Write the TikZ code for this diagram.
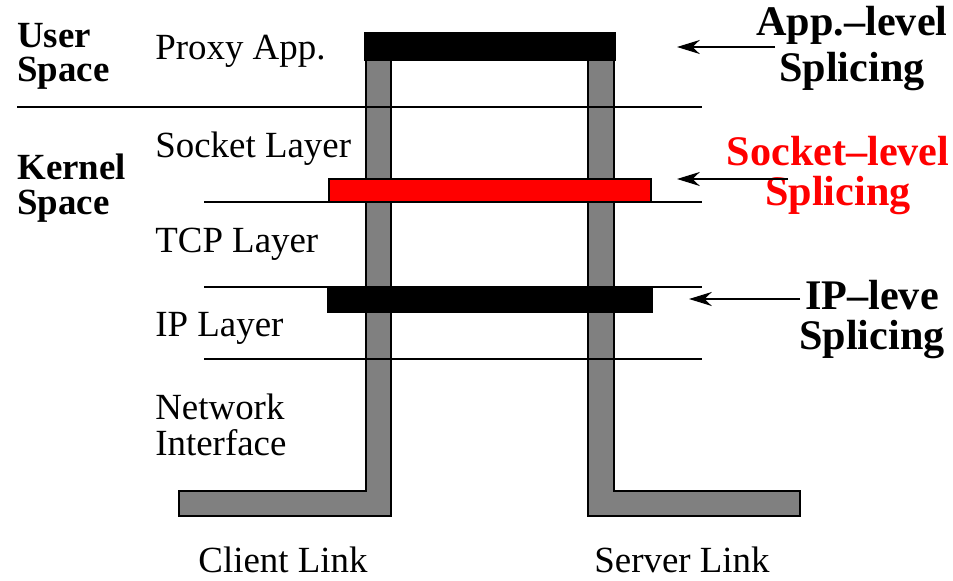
\documentclass[tikz,border=0pt]{standalone}
\usepackage{fontspec}
\setmainfont{Liberation Serif}
\usetikzlibrary{arrows.meta,positioning}
\definecolor{linkgray}{RGB}{128,128,128}
\definecolor{splicered}{RGB}{255,0,0}
\tikzset{
    layerlbl/.style={
           anchor=base west,
           inner sep=0pt,
           font=\fontsize{21}{20}\selectfont,
           align=left,
           },
    spacelbl/.style={
           layerlbl,
           font=\fontsize{21}{19.5}\selectfont\bfseries,
           },
    splicelbl/.style={
           anchor=base,
           inner sep=0pt,
           align=center,
           font=\fontsize{24}{22.5}\selectfont\bfseries,
           },
    linklbl/.style={
           anchor=base,
           inner sep=0pt,
           font=\fontsize{21}{21}\selectfont,
           },
    linkbar/.style={fill=linkgray, draw=black, line width=0.6pt},
    layerline/.style={draw=black, line width=0.85pt},
    splicebar/.style={draw=black, line width=0.6pt},
    splicearrow/.style={-{Stealth[length=13pt,width=8pt]}, line width=0.85pt},
}

\begin{document}
\begin{tikzpicture}[x=0.02cm,y=-0.02cm]
    \useasboundingbox (0,0) rectangle (953,581);

    % client and server links
    \draw[linkbar] (366,60) -- (391,60) -- (391,516) -- (179,516) -- (179,491) -- (366,491) -- cycle;
    \draw[linkbar] (588,60) -- (614,60) -- (614,491) -- (800,491) -- (800,516) -- (588,516) -- cycle;

    % layer boundaries
    \draw[line width=1.7pt] (17,107) -- (702,107);
    \foreach \y in {202,287,359}
        \draw[layerline] (204,\y) -- (702,\y);

    % splicing points
    \draw[splicebar, fill=black]      (365,33)  rectangle (615,60);
    \draw[splicebar, fill=splicered]  (329,179) rectangle (651,202);
    \draw[splicebar, fill=black]      (328,287) rectangle (652,312);

    % labels on the left (base = last line)
    \node[spacelbl] (user)   at (17,82)  {User\\Space};
    \node[spacelbl] (kernel) at (17,214) {Kernel\\Space};

    \node[layerlbl] (proxy)  at (155,60)  {Proxy App.};
    \node[layerlbl] (socket) at (155,157) {Socket Layer};
    \node[layerlbl] (tcp)    at (155,252) {TCP Layer};
    \node[layerlbl] (ip)     at (155,336) {IP Layer};
    \node[layerlbl] (nic)    at (155,455) {Network\\Interface};

    \node[linklbl] (client) at (283,572) {Client Link};
    \node[linklbl] (server) at (682,572) {Server Link};

    % splicing labels
    \node[splicelbl, font=\fontsize{24}{26.7}\selectfont\bfseries]
        (appsp) at (852,82) {App.--level\\Splicing};
    \node[splicelbl, text=splicered]
        (socksp) at (838,205) {Socket--level\\Splicing};
    \node[splicelbl]
        (ipsp) at (872,349) {IP--leve\\Splicing};

    \coordinate (appfrom)  at (775,47);
    \coordinate (appto)    at (677,47);
    \coordinate (sockfrom) at (788,179);
    \coordinate (sockto)   at (677,179);
    \coordinate (ipfrom)   at (800,299);
    \coordinate (ipto)     at (689,299);

    \draw[splicearrow] (appfrom)  -- (appto);
    \draw[splicearrow] (sockfrom) -- (sockto);
    \draw[splicearrow] (ipfrom)   -- (ipto);

\end{tikzpicture}
\end{document}
